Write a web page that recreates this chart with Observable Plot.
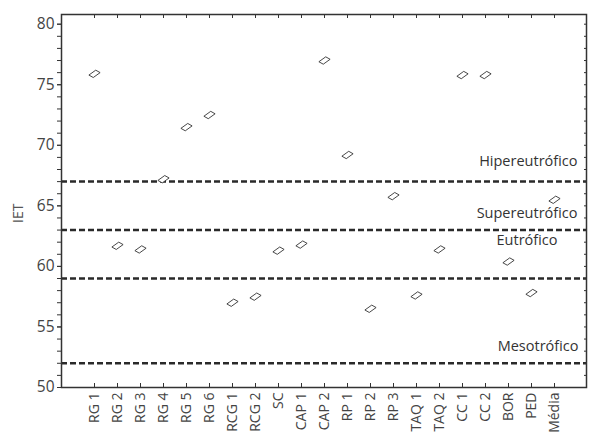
<!DOCTYPE html>
<html>
<head>
<meta charset="utf-8">
<script src="https://cdn.jsdelivr.net/npm/d3@7"></script>
<script src="https://cdn.jsdelivr.net/npm/@observablehq/plot@0.6"></script>
<style>
  html, body { margin: 0; padding: 0; background: #fff; }
</style>
</head>
<body>
<div id="chart"></div>
<script>
const categories = ["RG 1","RG 2","RG 3","RG 4","RG 5","RG 6","RCG 1","RCG 2","SC","CAP 1","CAP 2","RP 1","RP 2","RP 3","TAQ 1","TAQ 2","CC 1","CC 2","BOR","PED","Média"];
const iet = [75.9, 61.7, 61.4, 67.2, 71.5, 72.5, 57.0, 57.5, 61.3, 61.8, 77.0, 69.2, 56.5, 65.8, 57.6, 61.4, 75.8, 75.8, 60.4, 57.8, 65.5];
const zoneNames = ["Hipereutrófico", "Supereutrófico", "Eutrófico", "Mesotrófico"];
const zoneLimits = [67, 63, 59, 52];
const yTicks = [50, 55, 60, 65, 70, 75, 80];
const yMinorTicks = d3.range(50, 81, 1);

const data = categories.map((c, i) => ({cat: c, iet: iet[i]}));

// custom open tilted diamond symbol
const leaf = {
  draw(ctx, size) {
    const s = Math.sqrt(size / Math.PI) / 4.5;
    ctx.moveTo(-5.5 * s, 1.2 * s);
    ctx.lineTo(1.2 * s, -3.6 * s);
    ctx.lineTo(5.5 * s, -1.2 * s);
    ctx.lineTo(-1.2 * s, 3.6 * s);
    ctx.closePath();
  }
};

const labelStyle = {
  "Hipereutrófico": {dx: -9, dy: -20},
  "Supereutrófico": {dx: -9, dy: -17},
  "Eutrófico": {dx: -29, dy: -38},
  "Mesotrófico": {dx: -8, dy: -17}
};

const chart = Plot.plot({
  width: 593,
  height: 434,
  marginLeft: 61,
  marginRight: 7,
  marginTop: 14,
  marginBottom: 47,
  style: {fontFamily: "'Open Sans', sans-serif", fontSize: "14px", color: "#444", background: "#fff"},
  x: {type: "point", domain: categories, padding: 1},
  y: {domain: [50, 80.8]},
  marks: [
    // dashed class limits
    Plot.ruleY(zoneLimits, {stroke: "#2a2a2a", strokeWidth: 2.5, strokeDasharray: "6,3"}),
    // class labels
    ...zoneNames.map((name, i) => Plot.text([name], {
      frameAnchor: "right",
      y: () => zoneLimits[i],
      text: d => d,
      textAnchor: "end",
      dx: labelStyle[name].dx,
      dy: labelStyle[name].dy,
      fill: "#333",
      fontSize: 14.5
    })),
    // data points
    Plot.dot(data, {x: "cat", y: "iet", symbol: leaf, r: 4.6, stroke: "#333", strokeWidth: 0.9, fill: "white"}),
    // frame
    Plot.frame({stroke: "#333", strokeWidth: 1.5}),
    // y axis (left): labels + outward ticks
    Plot.axisY(yTicks, {anchor: "left", tickSize: 4, tickPadding: 3, fontSize: 15.5, label: null, stroke: "#333", fill: "#444"}),
    Plot.axisY(yMinorTicks, {anchor: "left", tickSize: 4, tickFormat: () => "", label: null, stroke: "#333"}),
    // right side inward ticks
    Plot.axisY(yMinorTicks, {anchor: "right", tickSize: -3, tickFormat: () => "", label: null, stroke: "#333"}),
    // x axis labels
    Plot.axisX({anchor: "bottom", tickSize: 0, tickPadding: 5, tickRotate: -90, fontSize: 14, label: null, fill: "#444"}),
    // bottom inward ticks
    Plot.axisX({anchor: "bottom", tickSize: -4, tickFormat: () => "", label: null, stroke: "#333"}),
    // top inward ticks
    Plot.axisX({anchor: "top", tickSize: -3, tickFormat: () => "", label: null, stroke: "#333"}),
    // y label
    Plot.text(["IET"], {frameAnchor: "left", text: d => d, rotate: -90, dx: -43, dy: 22, fill: "#555", fontSize: 14})
  ]
});

document.getElementById("chart").appendChild(chart);
</script>
</body>
</html>
